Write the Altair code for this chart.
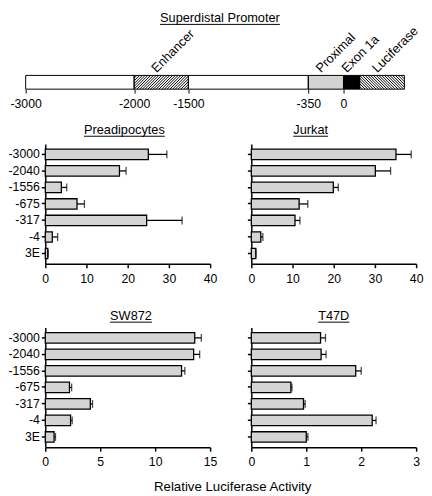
import altair as alt
import pandas as pd

FONT = "Liberation Sans"

# ---------------- data ----------------
constructs = ["-3000", "-2040", "-1556", "-675", "-317", "-4", "3E"]

preadipocytes_mean = [25.0, 18.0, 3.9, 7.7, 24.6, 1.7, 0.6]
preadipocytes_err = [4.5, 1.6, 1.3, 1.8, 8.6, 1.3, 0.1]
jurkat_mean = [35.1, 30.1, 19.9, 11.6, 10.6, 2.3, 1.1]
jurkat_err = [3.7, 3.7, 1.2, 2.1, 1.2, 0.5, 0.0]
sw872_mean = [13.6, 13.5, 12.4, 2.2, 4.1, 2.3, 0.8]
sw872_err = [0.6, 0.55, 0.3, 0.2, 0.2, 0.15, 0.13]
t47d_mean = [1.26, 1.27, 1.90, 0.72, 0.95, 2.20, 1.00]
t47d_err = [0.09, 0.09, 0.10, 0.02, 0.03, 0.07, 0.03]

segment_labels = ["", "Enhancer", "", "Proximal", "Exon 1a", "Luciferase"]
segment_start = [-3000, -2000, -1500, -350, 0, 150]
segment_end = [-2000, -1500, -350, 0, 150, 560]
diagram_ticks = [-3000, -2000, -1500, -350, 0]

# ---------------- styling / layout ----------------
BAR_FILL = "#d4d4d4"
seg_fill = ["white", "white", "white", "#d3d3d3", "black", "white"]
seg_hatch = ["", "/", "", "", "", "\\"]

DIAG_W = 386
DIAG_SHIFT = -20
DIAG_H = 14
breaks = [-3000, -2000, -1500, -350, 0, 150, 560]
ref_px = [0, 114, 171, 297, 334, 351, 398]
range_px = [DIAG_SHIFT + p / 398 * DIAG_W for p in ref_px]

PW = 168
PH = 122

AW = {' ': 278, 'S': 667, 'u': 556, 'p': 556, 'e': 556, 'r': 333, 'd': 556, 'i': 222,
      's': 500, 't': 278, 'a': 556, 'l': 222, 'P': 667, 'o': 556, 'm': 833, 'c': 500,
      'y': 500, 'J': 500, 'k': 500, 'W': 944, '8': 556, '7': 556, '2': 556, 'T': 611,
      '4': 556, 'D': 722}


def text_width(s, size):
    return sum(AW.get(ch, 556) for ch in s) / 1000 * size


def underlined_title(text, cx, y_base, size=13):
    tdf = pd.DataFrame({"t": [text]})
    t = alt.Chart(tdf).mark_text(font=FONT, fontSize=size, align="center",
                                 baseline="alphabetic", color="black").encode(
        x=alt.value(cx), y=alt.value(y_base), text="t:N")
    w = text_width(text, size)
    u = alt.Chart(tdf).mark_rule(color="black", strokeWidth=1).encode(
        x=alt.value(cx - w / 2), x2=alt.value(cx + w / 2), y=alt.value(y_base + 2))
    return [t, u]


# ---------------- diagram ----------------
seg_df = pd.DataFrame({
    "label": segment_labels,
    "start": segment_start,
    "end": segment_end,
    "fill": seg_fill,
    "hatch": seg_hatch,
    "pxw": [range_px[i + 1] - range_px[i] for i in range(len(segment_start))],
})

xscale = alt.Scale(domain=breaks, range=range_px, nice=False, zero=False)
yscale = alt.Scale(domain=[0, 1], nice=False, zero=False)

dbase = alt.Chart(seg_df).transform_calculate(y0="0").transform_calculate(y1="1")

fills = dbase.mark_rect(strokeWidth=0).encode(
    x=alt.X("start:Q", scale=xscale, title=None,
            axis=alt.Axis(values=diagram_ticks, domain=False, ticks=True, tickSize=4,
                          tickWidth=1, labelPadding=5, grid=False, labelFlush=False,
                          labelOverlap=False, labelExpr="toString(datum.value)")),
    x2="end:Q",
    y=alt.Y("y0:Q", scale=yscale, axis=None),
    y2="y1:Q",
    fill=alt.Fill("fill:N", scale=None),
)

hatch = (
    dbase.transform_filter("datum.hatch != ''")
    .transform_calculate(k="(datum.end - datum.start) / datum.pxw")
    .transform_calculate(hstep="2.8 * datum.k")
    .transform_calculate(dxh=f"{DIAG_H} * datum.k")
    .transform_calculate(idx="sequence(0, ceil((datum.end - datum.start + datum.dxh) / datum.hstep) + 1)")
    .transform_flatten(["idx"])
    .transform_calculate(xa="datum.start - datum.dxh + datum.idx * datum.hstep")
    .transform_calculate(t1="max(0, (datum.start - datum.xa) / datum.dxh)")
    .transform_calculate(t2="min(1, (datum.end - datum.xa) / datum.dxh)")
    .transform_filter("datum.t1 < datum.t2")
    .transform_calculate(hx1="datum.xa + datum.t1 * datum.dxh")
    .transform_calculate(hx2="datum.xa + datum.t2 * datum.dxh")
    .transform_calculate(hy1="datum.hatch == '/' ? datum.t1 : 1 - datum.t1")
    .transform_calculate(hy2="datum.hatch == '/' ? datum.t2 : 1 - datum.t2")
    .mark_rule(color="black", strokeWidth=1)
    .encode(x=alt.X("hx1:Q", scale=xscale), x2="hx2:Q",
            y=alt.Y("hy1:Q", scale=yscale), y2="hy2:Q")
)

outline = dbase.mark_rect(fill=None, fillOpacity=0, stroke="black", strokeWidth=1).encode(
    x=alt.X("start:Q", scale=xscale), x2="end:Q",
    y=alt.Y("y0:Q", scale=yscale), y2="y1:Q",
)

seg_labels = (
    dbase.transform_filter("datum.label != ''")
    .transform_calculate(mid="(datum.start + datum.end) / 2")
    .mark_text(angle=315, align="left", baseline="alphabetic", font=FONT, fontSize=13,
               color="black", dx=-2, dy=-5)
    .encode(x=alt.X("mid:Q", scale=xscale), y=alt.Y("y1:Q", scale=yscale), text="label:N")
)

diagram = alt.layer(
    fills, hatch, outline, seg_labels,
    *underlined_title("Superdistal Promoter", DIAG_SHIFT + 0.513 * DIAG_W, -54),
).properties(width=DIAG_W + DIAG_SHIFT, height=DIAG_H)


# ---------------- panels ----------------
def panel(title, mean, err, xmax, step, major, show_labels, title_frac, title_y):
    df = pd.DataFrame({"construct": constructs, "mean": mean, "err": err})
    xs = alt.Scale(domain=[0, xmax], nice=False, zero=True)
    ys = alt.Scale(domain=constructs, paddingInner=0.37, paddingOuter=0.31)
    nt = int(round(xmax / step))
    tick_vals = [i * step for i in range(nt + 1)]
    xaxis = alt.Axis(values=tick_vals, title=None, grid=False, tickSize=4, labelPadding=5,
                     labelFlush=False,
                     labelExpr=f"datum.value % {major} == 0 ? toString(datum.value) : ''")
    yaxis = alt.Axis(title=None, labels=show_labels, tickSize=4, labelPadding=2, grid=False)
    base = alt.Chart(df)
    bars = base.mark_bar(fill=BAR_FILL, stroke="black", strokeWidth=1.3).encode(
        x=alt.X("mean:Q", scale=xs, axis=xaxis),
        y=alt.Y("construct:N", scale=ys, axis=yaxis),
    )
    eb = base.transform_calculate(hi="datum.mean + datum.err")
    rule = eb.mark_rule(color="black", strokeWidth=1.3).encode(
        x=alt.X("mean:Q", scale=xs), x2="hi:Q", y=alt.Y("construct:N", scale=ys))
    cap = eb.mark_tick(color="black", thickness=1.3, size=8, orient="vertical").encode(
        x=alt.X("hi:Q", scale=xs), y=alt.Y("construct:N", scale=ys))
    return alt.layer(bars, rule, cap, *underlined_title(title, title_frac * PW, title_y)).properties(
        width=PW, height=PH)


p1 = panel("Preadipocytes", preadipocytes_mean, preadipocytes_err, 40, 5, 10, True, 0.48, -10)
p2 = panel("Jurkat", jurkat_mean, jurkat_err, 40, 5, 10, False, 0.36, -10)
p3 = panel("SW872", sw872_mean, sw872_err, 15, 2.5, 5, True, 0.52, -7.5)
p4 = panel("T47D", t47d_mean, t47d_err, 3, 0.5, 1, False, 0.50, -7.5)

row1 = alt.hconcat(p1, p2, spacing=42, bounds="flush")
row2 = alt.hconcat(p3, p4, spacing=42, bounds="flush")

chart = alt.vconcat(
    diagram,
    alt.vconcat(row1, row2, spacing=25),
    spacing=14,
).properties(
    padding=0,
    title=alt.TitleParams("Relative Luciferase Activity", orient="bottom", anchor="middle",
                          offset=12, dx=17, fontSize=13.5, font=FONT, fontWeight="normal",
                          color="black"),
).configure_view(stroke=None).configure_axis(
    labelFont=FONT, labelFontSize=12.5, labelColor="black", domainColor="black",
    tickColor="black", domainWidth=1.5, tickWidth=1.5,
)

chart.save("out.html", embed_options={"renderer": "svg", "actions": False})
